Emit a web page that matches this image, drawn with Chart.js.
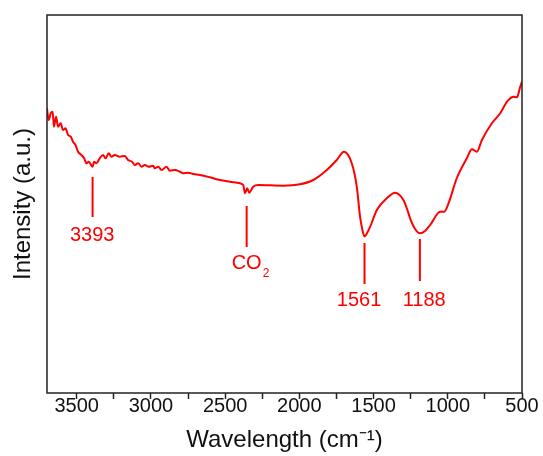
<!DOCTYPE html>
<html lang="en">
<head>
<meta charset="UTF-8">
<title>FTIR spectrum</title>
<script src="https://cdn.jsdelivr.net/npm/chart.js"></script>
<style>
  html, body { margin: 0; padding: 0; background: #fff; }
  canvas { display: block; }
</style>
</head>
<body>
<canvas id="ftir" width="543" height="456"></canvas>
<script>
// spectrum (cm-1 / a.u.)
const wavenumbers = [
  3700, 3689, 3675, 3662, 3653, 3639, 3626, 3608, 3592, 3576, 3558, 3540, 3525, 3508, 3491, 3468,
  3450, 3434, 3419, 3393, 3383, 3367, 3345, 3322, 3306, 3284, 3266, 3243, 3210, 3176, 3154, 3127,
  3108, 3086, 3063, 3041, 3014, 2985, 2974, 2951, 2928, 2895, 2872, 2839, 2805, 2783, 2749, 2715,
  2670, 2603, 2535, 2468, 2400, 2378, 2366, 2351, 2338, 2311, 2277, 2108, 1996, 1906, 1815, 1748,
  1699, 1647, 1613, 1591, 1575, 1561, 1547, 1523, 1478, 1411, 1355, 1299, 1272, 1254, 1220, 1188,
  1153, 1119, 1051, 1024, 995, 939, 871, 837, 804, 770, 703, 647, 601, 557, 534, 512, 500
];
const intensity = [
  284.7, 273, 279.7, 281.3, 266.3, 276.3, 266.3, 269.7, 263, 264.7, 258, 256.3, 251.3, 248, 241.3, 238,
  234.7, 229.7, 231.3, 226.3, 231.3, 229.7, 234.7, 238, 234.7, 239.7, 236.3, 238, 236.3, 237, 233, 231.3,
  228, 229.7, 226.3, 228, 226.3, 227.3, 224.7, 226.3, 223, 226.3, 222.3, 223, 221.3, 219.7, 220.3, 219,
  218, 215.7, 213, 211.3, 209.7, 208, 199.7, 204.7, 200.3, 206.3, 208, 207.3, 208.7, 213, 223, 233,
  241.3, 229.7, 206.3, 176.3, 163, 156.5, 159, 166.3, 183, 194.7, 200.3, 193, 183, 174.7, 164, 159.7,
  162, 168, 181.3, 181.3, 189.7, 215, 235, 243.7, 241.3, 253, 269.7, 279.7, 291.3, 296.3, 295.7, 306.3, 311.3
];

// peak markers
const peakX = [3393, 2355, 1561, 1188];
const peakTop = [216, 187, 150, 154];
const peakBottom = [176, 146, 109, 112];
const peakLabelX = [3396, 2355, 1598, 1159];
const peakLabelY = [158, 130, 93, 93];
const peakText = ['3393', 'CO', '1561', '1188'];
const peakSub = ['', '2', '', ''];

const xTicks = [3500, 3250, 3000, 2750, 2500, 2250, 2000, 1750, 1500, 1250, 1000, 750, 500];

const RED = '#ff0000';
const FONT = '"Liberation Sans", Arial, sans-serif';
Chart.defaults.font.family = FONT;

// box round the plot
const framePlugin = {
  id: 'frame',
  afterDraw(chart) {
    const { ctx, chartArea: a } = chart;
    ctx.save();
    ctx.strokeStyle = '#222';
    ctx.lineWidth = 1.5;
    ctx.strokeRect(a.left, a.top, a.right - a.left, a.bottom - a.top);
    ctx.restore();
  }
};

// text under the marker lines
const peakLabelPlugin = {
  id: 'peakLabels',
  afterDatasetsDraw(chart) {
    const { ctx, scales: { x, y } } = chart;
    ctx.save();
    ctx.fillStyle = RED;
    ctx.textBaseline = 'middle';
    peakText.forEach((t, i) => {
      const px = x.getPixelForValue(peakLabelX[i]);
      const py = y.getPixelForValue(peakLabelY[i]);
      ctx.font = '20px ' + FONT;
      ctx.textAlign = 'center';
      ctx.fillText(t, px, py);
      if (peakSub[i]) {
        const w = ctx.measureText(t).width;
        ctx.font = '12px ' + FONT;
        ctx.textAlign = 'left';
        ctx.fillText(peakSub[i], px + w / 2 + 1, py + 11);
      }
    });
    ctx.restore();
  }
};

const markerSets = peakX.map((px, i) => ({
  data: [{ x: px, y: peakTop[i] }, { x: px, y: peakBottom[i] }],
  borderColor: RED,
  borderWidth: 2,
  pointRadius: 0,
  tension: 0
}));

new Chart(document.getElementById('ftir'), {
  type: 'line',
  data: {
    datasets: [{
      data: wavenumbers.map((w, i) => ({ x: w, y: intensity[i] })),
      borderColor: RED,
      borderWidth: 2,
      pointRadius: 0,
      cubicInterpolationMode: 'monotone'
    }, ...markerSets]
  },
  options: {
    responsive: false,
    animation: false,
    layout: { padding: { left: 0, top: 15, right: 21, bottom: 0 } },
    plugins: { legend: { display: false }, tooltip: { enabled: false } },
    scales: {
      x: {
        type: 'linear',
        reverse: true,
        min: 500,
        max: 3700,
        afterBuildTicks: s => { s.ticks = xTicks.map(v => ({ value: v })); },
        afterFit: s => { s.height = 63; },
        border: { display: false },
        grid: { drawOnChartArea: false, drawTicks: true, tickLength: 6, tickColor: '#222', tickWidth: 1.5 },
        ticks: {
          autoSkip: false,
          maxRotation: 0,
          padding: -5,
          color: '#111',
          font: { size: 20 },
          callback: v => (v % 500 === 0 ? String(v) : '')
        },
        title: { display: true, text: 'Wavelength (cm⁻¹)', color: '#111', font: { size: 24 }, padding: { top: 0, bottom: 1 } }
      },
      y: {
        min: 0,
        max: 378,
        afterFit: s => { s.width = 47; },
        border: { display: false },
        grid: { display: false },
        ticks: { display: false },
        title: { display: true, text: 'Intensity (a.u.)', color: '#111', font: { size: 24 }, padding: { top: 9, bottom: 0 } }
      }
    }
  },
  plugins: [framePlugin, peakLabelPlugin]
});
</script>
</body>
</html>
